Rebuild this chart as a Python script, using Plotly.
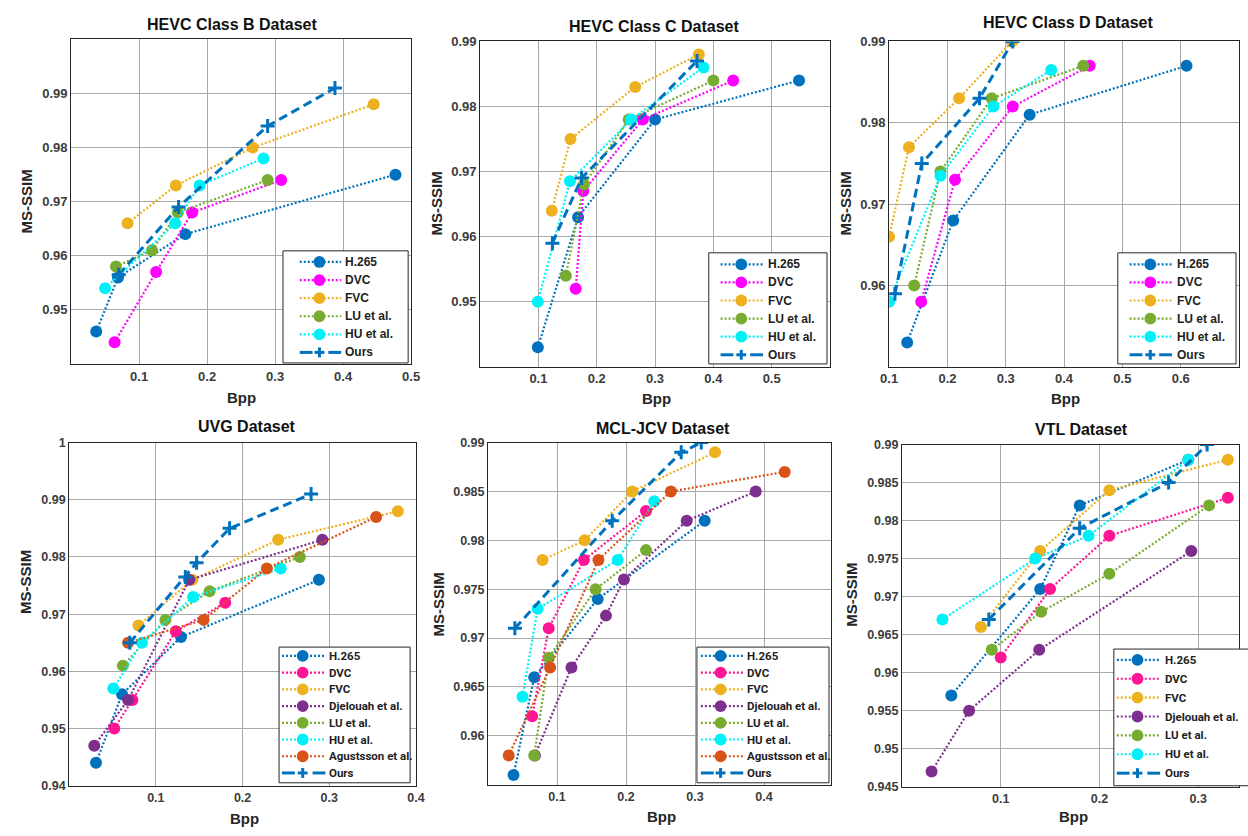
import plotly.graph_objects as go

W, H = 1248, 836

# ---------------- data (Bpp, MS-SSIM) ----------------
# HEVC Class B
B_H265_X = [0.037, 0.069, 0.168, 0.477]; B_H265_Y = [0.946, 0.956, 0.964, 0.975]
B_DVC_X = [0.064, 0.125, 0.178, 0.309];  B_DVC_Y = [0.944, 0.957, 0.968, 0.974]
B_FVC_X = [0.083, 0.154, 0.267, 0.445];  B_FVC_Y = [0.966, 0.973, 0.980, 0.988]
B_LU_X = [0.066, 0.119, 0.157, 0.289];   B_LU_Y = [0.958, 0.961, 0.968, 0.974]
B_HU_X = [0.050, 0.153, 0.189, 0.283];   B_HU_Y = [0.954, 0.966, 0.973, 0.978]
B_OURS_X = [0.070, 0.158, 0.289, 0.388]; B_OURS_Y = [0.9565, 0.969, 0.984, 0.991]

# HEVC Class C
C_H265_X = [0.099, 0.168, 0.300, 0.547]; C_H265_Y = [0.943, 0.963, 0.978, 0.984]
C_DVC_X = [0.164, 0.177, 0.279, 0.434];  C_DVC_Y = [0.952, 0.967, 0.978, 0.984]
C_FVC_X = [0.123, 0.155, 0.266, 0.375];  C_FVC_Y = [0.964, 0.975, 0.983, 0.988]
C_LU_X = [0.147, 0.178, 0.255, 0.400];   C_LU_Y = [0.954, 0.968, 0.978, 0.984]
C_HU_X = [0.099, 0.154, 0.259, 0.383];   C_HU_Y = [0.950, 0.9685, 0.978, 0.986]
C_OURS_X = [0.124, 0.174, 0.372];        C_OURS_Y = [0.959, 0.969, 0.987]

# HEVC Class D
D_H265_X = [0.131, 0.210, 0.341, 0.610]; D_H265_Y = [0.953, 0.968, 0.981, 0.987]
D_DVC_X = [0.155, 0.213, 0.312, 0.444];  D_DVC_Y = [0.958, 0.973, 0.982, 0.987]
D_FVC_X = [0.100, 0.134, 0.220, 0.311];  D_FVC_Y = [0.966, 0.977, 0.983, 0.990]
D_LU_X = [0.143, 0.188, 0.276, 0.433];   D_LU_Y = [0.960, 0.974, 0.983, 0.987]
D_HU_X = [0.100, 0.188, 0.279, 0.378];   D_HU_Y = [0.958, 0.9735, 0.982, 0.9865]
D_OURS_X = [0.110, 0.156, 0.255, 0.312]; D_OURS_Y = [0.959, 0.975, 0.983, 0.990]

# UVG
U_H265_X = [0.031, 0.061, 0.129, 0.288]; U_H265_Y = [0.944, 0.956, 0.966, 0.976]
U_DVC_X = [0.052, 0.073, 0.123, 0.180];  U_DVC_Y = [0.950, 0.955, 0.967, 0.972]
U_FVC_X = [0.080, 0.142, 0.241, 0.379];  U_FVC_Y = [0.968, 0.976, 0.983, 0.988]
U_DJE_X = [0.029, 0.068, 0.1385, 0.292]; U_DJE_Y = [0.947, 0.955, 0.976, 0.983]
U_LU_X = [0.062, 0.111, 0.162, 0.266];   U_LU_Y = [0.961, 0.969, 0.974, 0.980]
U_HU_X = [0.051, 0.084, 0.143, 0.244];   U_HU_Y = [0.957, 0.965, 0.973, 0.978]
U_AGU_X = [0.068, 0.155, 0.228, 0.354];  U_AGU_Y = [0.965, 0.969, 0.978, 0.987]
U_OURS_X = [0.070, 0.134, 0.147, 0.185, 0.279]; U_OURS_Y = [0.965, 0.9765, 0.979, 0.985, 0.991]

# MCL-JCV
M_H265_X = [0.037, 0.067, 0.159, 0.314]; M_H265_Y = [0.956, 0.966, 0.974, 0.982]
M_DVC_X = [0.064, 0.088, 0.139, 0.229];  M_DVC_Y = [0.962, 0.971, 0.978, 0.983]
M_FVC_X = [0.079, 0.140, 0.209, 0.329];  M_FVC_Y = [0.978, 0.980, 0.985, 0.989]
M_DJE_X = [0.068, 0.121, 0.171, 0.197, 0.288, 0.388]; M_DJE_Y = [0.958, 0.967, 0.9723, 0.976, 0.982, 0.985]
M_LU_X = [0.067, 0.088, 0.156, 0.229];   M_LU_Y = [0.958, 0.968, 0.975, 0.979]
M_HU_X = [0.050, 0.072, 0.188, 0.241];   M_HU_Y = [0.964, 0.973, 0.978, 0.984]
M_AGU_X = [0.030, 0.090, 0.160, 0.265, 0.430]; M_AGU_Y = [0.958, 0.967, 0.978, 0.985, 0.987]
M_OURS_X = [0.039, 0.180, 0.280, 0.309]; M_OURS_Y = [0.971, 0.982, 0.989, 0.990]

# VTL
V_H265_X = [0.050, 0.140, 0.180, 0.290]; V_H265_Y = [0.957, 0.971, 0.982, 0.988]
V_DVC_X = [0.100, 0.150, 0.210, 0.330];  V_DVC_Y = [0.962, 0.971, 0.978, 0.983]
V_FVC_X = [0.080, 0.140, 0.210, 0.330];  V_FVC_Y = [0.966, 0.976, 0.984, 0.988]
V_DJE_X = [0.030, 0.068, 0.139, 0.293];  V_DJE_Y = [0.947, 0.955, 0.963, 0.976]
V_LU_X = [0.091, 0.141, 0.210, 0.311];   V_LU_Y = [0.963, 0.968, 0.973, 0.982]
V_HU_X = [0.041, 0.135, 0.189, 0.290];   V_HU_Y = [0.967, 0.975, 0.978, 0.988]
V_OURS_X = [0.088, 0.180, 0.270, 0.309]; V_OURS_Y = [0.967, 0.979, 0.985, 0.990]

TITLES = ["HEVC Class B Dataset", "HEVC Class C Dataset", "HEVC Class D Dataset",
          "UVG Dataset", "MCL-JCV Dataset", "VTL Dataset"]

X_TICKS = [[0.1, 0.2, 0.3, 0.4, 0.5], [0.1, 0.2, 0.3, 0.4, 0.5], [0.1, 0.2, 0.3, 0.4, 0.5, 0.6],
           [0.1, 0.2, 0.3, 0.4], [0.1, 0.2, 0.3, 0.4], [0.1, 0.2, 0.3]]
Y_TICKS = [[0.95, 0.96, 0.97, 0.98, 0.99], [0.95, 0.96, 0.97, 0.98, 0.99], [0.96, 0.97, 0.98, 0.99],
           [0.94, 0.95, 0.96, 0.97, 0.98, 0.99, 1.0],
           [0.96, 0.965, 0.97, 0.975, 0.98, 0.985, 0.99],
           [0.945, 0.95, 0.955, 0.96, 0.965, 0.97, 0.975, 0.98, 0.985, 0.99]]
Y_TICKTEXT = [["0.95", "0.96", "0.97", "0.98", "0.99"], ["0.95", "0.96", "0.97", "0.98", "0.99"],
              ["0.96", "0.97", "0.98", "0.99"],
              ["0.94", "0.95", "0.96", "0.97", "0.98", "0.99", "1"],
              ["0.96", "0.965", "0.97", "0.975", "0.98", "0.985", "0.99"],
              ["0.945", "0.95", "0.955", "0.96", "0.965", "0.97", "0.975", "0.98", "0.985", "0.99"]]

# ---------------- styles ----------------
BLUE = "#0072BD"
COLORS = {
    "H.265": BLUE,
    "DVC": "#FF00FF",
    "DVC2": "#FF1493",
    "FVC": "#EDB120",
    "Djelouah et al.": "#7E2F8E",
    "LU et al.": "#77AC30",
    "HU et al.": "#00F0F8",
    "Agustsson et al.": "#D95319",
}

datasets = [
    [("H.265", B_H265_X, B_H265_Y), ("DVC", B_DVC_X, B_DVC_Y), ("FVC", B_FVC_X, B_FVC_Y),
     ("LU et al.", B_LU_X, B_LU_Y), ("HU et al.", B_HU_X, B_HU_Y), ("Ours", B_OURS_X, B_OURS_Y)],
    [("H.265", C_H265_X, C_H265_Y), ("DVC", C_DVC_X, C_DVC_Y), ("FVC", C_FVC_X, C_FVC_Y),
     ("LU et al.", C_LU_X, C_LU_Y), ("HU et al.", C_HU_X, C_HU_Y), ("Ours", C_OURS_X, C_OURS_Y)],
    [("H.265", D_H265_X, D_H265_Y), ("DVC", D_DVC_X, D_DVC_Y), ("FVC", D_FVC_X, D_FVC_Y),
     ("LU et al.", D_LU_X, D_LU_Y), ("HU et al.", D_HU_X, D_HU_Y), ("Ours", D_OURS_X, D_OURS_Y)],
    [("H.265", U_H265_X, U_H265_Y), ("DVC", U_DVC_X, U_DVC_Y), ("FVC", U_FVC_X, U_FVC_Y),
     ("Djelouah et al.", U_DJE_X, U_DJE_Y), ("LU et al.", U_LU_X, U_LU_Y), ("HU et al.", U_HU_X, U_HU_Y),
     ("Agustsson et al.", U_AGU_X, U_AGU_Y), ("Ours", U_OURS_X, U_OURS_Y)],
    [("H.265", M_H265_X, M_H265_Y), ("DVC", M_DVC_X, M_DVC_Y), ("FVC", M_FVC_X, M_FVC_Y),
     ("Djelouah et al.", M_DJE_X, M_DJE_Y), ("LU et al.", M_LU_X, M_LU_Y), ("HU et al.", M_HU_X, M_HU_Y),
     ("Agustsson et al.", M_AGU_X, M_AGU_Y), ("Ours", M_OURS_X, M_OURS_Y)],
    [("H.265", V_H265_X, V_H265_Y), ("DVC", V_DVC_X, V_DVC_Y), ("FVC", V_FVC_X, V_FVC_Y),
     ("Djelouah et al.", V_DJE_X, V_DJE_Y), ("LU et al.", V_LU_X, V_LU_Y), ("HU et al.", V_HU_X, V_HU_Y),
     ("Ours", V_OURS_X, V_OURS_Y)],
]

# plot-area boxes in pixels: (left, right, top, bottom), axis ranges
BOXES = [(63, 408, 33, 363), (478, 833, 35, 366), (893, 1248, 35, 366),
         (61, 413, 443, 792), (486, 834, 443, 791), (906, 1248, 445, 793)]
XRANGES = [[0.0, 0.5], [0.0, 0.6], [0.1, 0.7], [0.0, 0.4], [0.0, 0.497], [0.0, 0.3413]]
YRANGES = [[0.94, 1.0], [0.94, 0.99], [0.95, 0.99], [0.94, 1.0], [0.955, 0.99], [0.945, 0.99]]
# legend box geometry (px): left, top, right, bottom, line start, line end, marker, text (relative
# to left), first entry centre (relative to top), entry spacing
LEG_GEOM = [(278, 248, 405, 362, 17, 59, 37, 61, 11.3, 18.4),
            (710, 250, 830, 363, 12, 55, 33, 58, 11.7, 18.4),
            (1125, 250, 1245, 363, 12, 55, 33, 58, 11.7, 18.4),
            (274, 651, 407, 789, 3, 47, 24, 49, 9.0, 17.0),
            (698, 651, 832, 789, 4, 47, 24, 49, 9.0, 17.0),
            (1121, 653, 1258, 792, 3, 47, 24, 50, 11.0, 19.2)]
TITLE_POS = [(227, 18), (655, 20), (1075, 16), (241, 427), (664, 429), (1088, 430)]
XLAB_POS = [(236, 397), (657, 398), (1072, 398), (239, 825), (662, 823), (1080, 823)]
YLAB_POS = [(18, 198), (434, 200), (849, 200), (16, 585), (436, 608), (855, 598)]

FONT = "Liberation Sans, Arial, sans-serif"
fig = go.Figure()
layout = dict(width=W, height=H, margin=dict(l=0, r=0, t=0, b=0),
              paper_bgcolor="white", plot_bgcolor="white", showlegend=False, hovermode=False)
annotations = []
shapes = []


def px(x):
    return x / W


def py(y):
    return 1 - y / H


for i, series in enumerate(datasets):
    n = i + 1
    xa = "x" if n == 1 else f"x{n}"
    ya = "y" if n == 1 else f"y{n}"
    bottom_row = i >= 3
    for name, xs, ys in series:
        if name == "Ours":
            fig.add_trace(go.Scatter(
                x=xs, y=ys, name=name, mode="lines+markers", xaxis=xa, yaxis=ya,
                line=dict(color=BLUE, width=3, dash="9px,5px"),
                marker=dict(symbol="cross-thin", size=10, line=dict(color=BLUE, width=3))))
        else:
            key = "DVC2" if (name == "DVC" and bottom_row) else name
            col = COLORS[key]
            fig.add_trace(go.Scatter(
                x=xs, y=ys, name=name, mode="lines+markers", xaxis=xa, yaxis=ya,
                line=dict(color=col, width=2.2, dash="2px,2px"),
                marker=dict(symbol="circle", size=12, color=col, line=dict(width=0))))

    l, r, t, b = BOXES[i]
    tick_size = 13 if not bottom_row else 12.5
    axis_common = dict(showline=True, linecolor="#262626", linewidth=1, mirror=True,
                       showgrid=True, gridcolor="#a9a9a9", gridwidth=1, zeroline=False,
                       ticks="", tickfont=dict(family=FONT, size=tick_size, color="#3c3c3c", weight="bold"))
    layout["xaxis" if n == 1 else f"xaxis{n}"] = dict(
        domain=[l / W, r / W], range=XRANGES[i], anchor=ya,
        tickvals=X_TICKS[i], ticktext=[f"{v:g}" for v in X_TICKS[i]], **axis_common)
    layout["yaxis" if n == 1 else f"yaxis{n}"] = dict(
        domain=[1 - b / H, 1 - t / H], range=YRANGES[i], anchor=xa,
        tickvals=Y_TICKS[i], ticktext=Y_TICKTEXT[i], **axis_common)

    # ---- legend box (drawn as layout shapes + text annotations) ----
    bl, bt, br, bb, l0, l1, mk, tx0, c0, sp = LEG_GEOM[i]
    shapes.append(dict(type="rect", xref="paper", yref="paper", x0=px(bl), x1=px(br),
                       y0=py(bb), y1=py(bt), fillcolor="white", line=dict(color="#262626", width=1)))
    lfont = (dict(family=FONT, size=12, color="#1e1e1e", weight="bold") if not bottom_row
             else dict(family="Roboto, sans-serif", size=11.5, color="#1e1e1e", weight="bold"))
    for k, (name, _, _) in enumerate(series):
        cy = bt + c0 + k * sp
        if name == "Ours":
            for a0, a1 in [(l0, l0 + 13), (l1 - 13, l1)]:
                shapes.append(dict(type="line", xref="paper", yref="paper", x0=px(bl + a0), x1=px(bl + a1),
                                   y0=py(cy), y1=py(cy), line=dict(color=BLUE, width=3)))
            shapes.append(dict(type="line", xref="paper", yref="paper", x0=px(bl + mk - 5), x1=px(bl + mk + 5),
                               y0=py(cy), y1=py(cy), line=dict(color=BLUE, width=3)))
            shapes.append(dict(type="line", xref="paper", yref="paper", x0=px(bl + mk), x1=px(bl + mk),
                               y0=py(cy - 5), y1=py(cy + 5), line=dict(color=BLUE, width=3)))
        else:
            key = "DVC2" if (name == "DVC" and bottom_row) else name
            col = COLORS[key]
            shapes.append(dict(type="line", xref="paper", yref="paper", x0=px(bl + l0), x1=px(bl + l1),
                               y0=py(cy), y1=py(cy), line=dict(color=col, width=2.2, dash="2px,2px")))
            shapes.append(dict(type="circle", xref="paper", yref="paper", x0=px(bl + mk - 6), x1=px(bl + mk + 6),
                               y0=py(cy + 6), y1=py(cy - 6), fillcolor=col, line=dict(width=0)))
        annotations.append(dict(text=name, x=px(bl + tx0), y=py(cy), xref="paper", yref="paper",
                                showarrow=False, xanchor="left", yanchor="middle", font=lfont))

    tx, ty = TITLE_POS[i]
    annotations.append(dict(text=TITLES[i], x=px(tx), y=py(ty), xref="paper", yref="paper",
                            showarrow=False, xanchor="center", yanchor="middle",
                            font=dict(family=FONT, size=16, color="#111111", weight="bold")))
    bx, by = XLAB_POS[i]
    annotations.append(dict(text="Bpp", x=px(bx), y=py(by), xref="paper", yref="paper",
                            showarrow=False, xanchor="center", yanchor="middle",
                            font=dict(family=FONT, size=15, color="#262626", weight="bold")))
    yx, yy = YLAB_POS[i]
    annotations.append(dict(text="MS-SSIM", x=px(yx), y=py(yy), xref="paper", yref="paper",
                            showarrow=False, xanchor="center", yanchor="middle", textangle=-90,
                            font=dict(family=FONT, size=15, color="#262626", weight="bold")))

layout["annotations"] = annotations
layout["shapes"] = shapes
fig.update_layout(**layout)
fig.write_html("out.html", config={"displayModeBar": False, "staticPlot": True},
               post_script="document.body.style.margin='0px';document.body.style.overflow='hidden';")
